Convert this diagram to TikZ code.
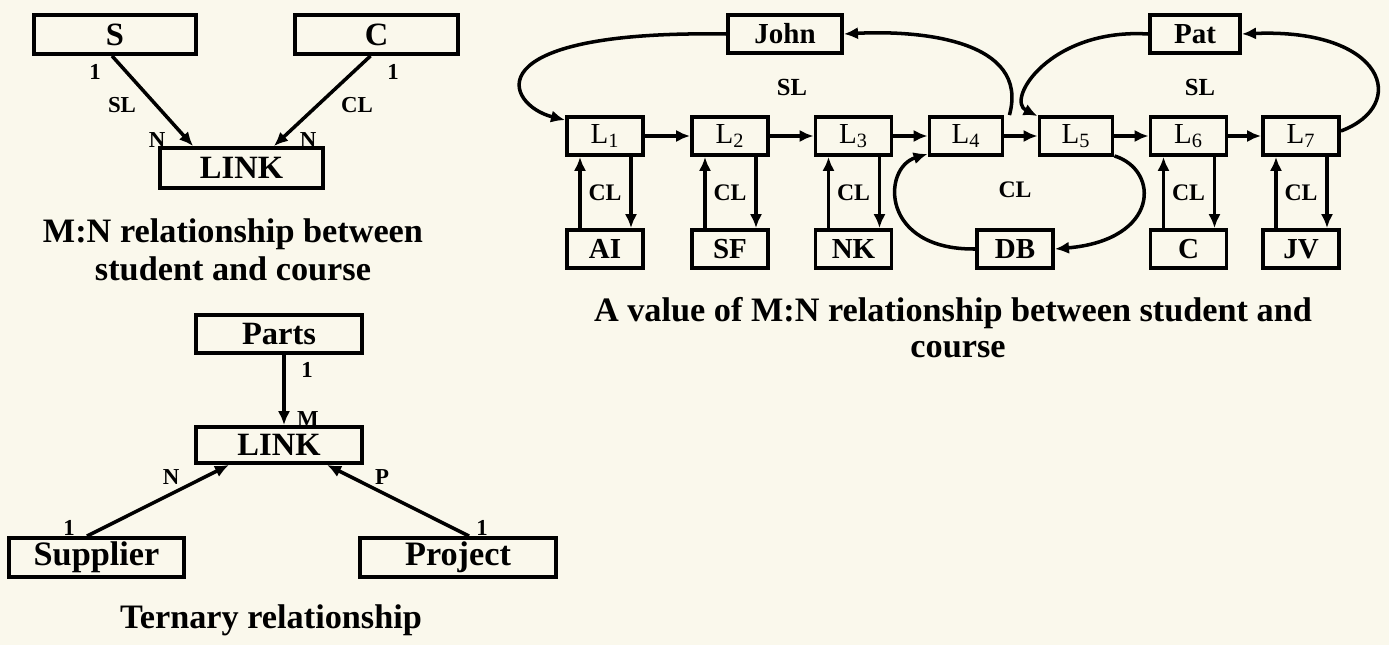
\documentclass[tikz,border=0pt]{standalone}
\usepackage{fontspec}
\setmainfont{Liberation Serif}
\usetikzlibrary{arrows.meta,calc}
\definecolor{bg}{HTML}{FAF8EC}
\begin{document}
\begin{tikzpicture}[x=0.02cm,y=-0.02cm,
  box/.style={draw=black, line width=2.2pt, inner sep=0pt, font=\fontsize{18.5}{20}\selectfont\bfseries},
  rbox/.style={box, minimum width=1.52cm, minimum height=0.76cm, font=\fontsize{16.5}{18}\selectfont\bfseries},
  lbox/.style={rbox, font=\fontsize{16.5}{18}\selectfont},
  arr/.style={-{Latex[length=8pt,width=7pt]}, line width=2pt},
  lab/.style={inner sep=0pt, font=\fontsize{13}{15}\selectfont\bfseries},
  captxt/.style={inner sep=0pt, anchor=base, font=\fontsize{19.5}{22}\selectfont\bfseries}]
\fill[bg] (0,0) rectangle (1389,645);
\useasboundingbox (0,0) rectangle (1389,645);

% ---- M:N schema ----
\node[box, minimum width=3.24cm, minimum height=0.78cm] (S) at (115,34.5) {S};
\node[box, minimum width=3.26cm, minimum height=0.78cm] (C) at (376.5,34.5) {C};
\node[box, minimum width=3.26cm, minimum height=0.8cm] (LINK1) at (241.5,168) {LINK};
\draw[arr] ($(S.south)+(-3,0)$) -- ($(LINK1.north west)+(35,0)$);
\draw[arr] ($(C.south)+(-6,0)$) -- ($(LINK1.north east)+(-51,0)$);
\node[lab] (s1) at (95,72) {1};
\node[lab] (sSL) at (122,105) {SL};
\node[lab] (sN) at (157,140) {N};
\node[lab] (c1) at (393,72) {1};
\node[lab] (cCL) at (357,105) {CL};
\node[lab] (cN) at (308,140) {N};
\node[captxt] (cap1a) at (233,242) {M:N relationship between};
\node[captxt] (cap1b) at (233,280) {student and course};

% ---- Ternary ----
\node[lab] (pM) at (308,419) {M};
\node[lab] (sp1) at (69,528) {1};
\node[lab] (pr1) at (482,528) {1};
\node[box, fill=bg, minimum width=3.32cm, minimum height=0.76cm] (Parts) at (279,334) {Parts};
\node[box, fill=bg, minimum width=3.32cm, minimum height=0.72cm] (LINK2) at (279,445) {LINK};
\node[box, fill=bg, minimum width=3.5cm, minimum height=0.78cm, font=\fontsize{19.5}{21}\selectfont\bfseries] (Supplier) at (96.5,557.5) {Supplier};
\node[box, fill=bg, minimum width=3.92cm, minimum height=0.78cm, font=\fontsize{19.5}{21}\selectfont\bfseries] (Project) at (458,557.5) {Project};
\draw[arr] ($(Parts.south)+(5,0)$) -- ($(LINK2.north)+(5,0)$);
\draw[arr] ($(Supplier.north)+(-9.5,0)$) -- ($(LINK2.south)+(-50,0)$);
\draw[arr] ($(Project.north)+(11,0)$) -- ($(LINK2.south)+(48,0)$);
\node[lab] (pa1) at (307,370) {1};
\node[lab] (lN) at (171,477) {N};
\node[lab] (lP) at (382,477) {P};
\node[captxt] (cap2) at (271,628) {Ternary relationship};

% ---- value of M:N ----
\node[rbox, minimum width=2.28cm] (John) at (785,34) {John};
\node[rbox, minimum width=1.8cm] (Pat) at (1195,34) {Pat};
\node[lbox] (L1) at (605,136) {L\textsubscript{1}};
\node[lbox] (L2) at (730,136) {L\textsubscript{2}};
\node[lbox] (L3) at (853.5,136) {L\textsubscript{3}};
\node[lbox, minimum width=1.46cm] (L4) at (966,136) {L\textsubscript{4}};
\node[lbox, minimum width=1.46cm] (L5) at (1076,136) {L\textsubscript{5}};
\node[lbox] (L6) at (1188.5,136) {L\textsubscript{6}};
\node[lbox] (L7) at (1301,136) {L\textsubscript{7}};
\node[rbox] (AI) at (605,249) {AI};
\node[rbox] (SF) at (730,249) {SF};
\node[rbox] (NK) at (853.5,249) {NK};
\node[rbox] (DB) at (1015,249) {DB};
\node[rbox] (C2) at (1188.5,249) {C};
\node[rbox] (JV) at (1301,249) {JV};

\draw[arr] (L1.east) -- (L2.west);
\draw[arr] (L2.east) -- (L3.west);
\draw[arr] (L3.east) -- (L4.west);
\draw[arr] (L4.east) -- (L5.west);
\draw[arr] (L5.east) -- (L6.west);
\draw[arr] (L6.east) -- (L7.west);

\foreach \l/\v in {L1/AI, L2/SF, L3/NK, L6/C2, L7/JV}{
  \draw[arr] ($(\v.north)+(-25,0)$) -- ($(\l.south)+(-25,0)$);
  \draw[arr] ($(\l.south)+(26,0)$) -- ($(\v.north)+(26,0)$);
  \node[lab, font=\fontsize{13.5}{15}\selectfont\bfseries] (cl\l) at ($(\l.south)!0.5!(\v.north)$) {CL};
}

\draw[arr] (John.west) .. controls (470,30) and (505,105) .. ($(L1.north west)+(0,5)$);
\draw[arr] ($(L4.north east)+(5,0)$) .. controls (1030,40) and (920,30) .. (John.east);
\draw[arr] (Pat.west) .. controls (1050,28) and (1005,100) .. ($(L5.north west)+(0,1)$);
\draw[arr] ($(L7.east)+(0,-5)$) .. controls (1410,105) and (1385,28) .. (Pat.east);
\draw[arr] (DB.west) .. controls (880,250) and (882,168) .. ($(L4.south west)+(0,-3)$);
\draw[arr] ($(L5.south east)+(0,-1)$) .. controls (1160,170) and (1160,240) .. (DB.east);

\node[lab, font=\fontsize{14}{15}\selectfont\bfseries] (sl1) at (792,87) {SL};
\node[lab, font=\fontsize{14}{15}\selectfont\bfseries] (sl2) at (1200,87) {SL};
\node[lab, font=\fontsize{13.5}{15}\selectfont\bfseries] (cl45) at (1015,190) {CL};

\node[captxt] (cap3a) at (953,321) {A value of M:N relationship between student and};
\node[captxt] (cap3b) at (958,357) {course};
\end{tikzpicture}
\end{document}
